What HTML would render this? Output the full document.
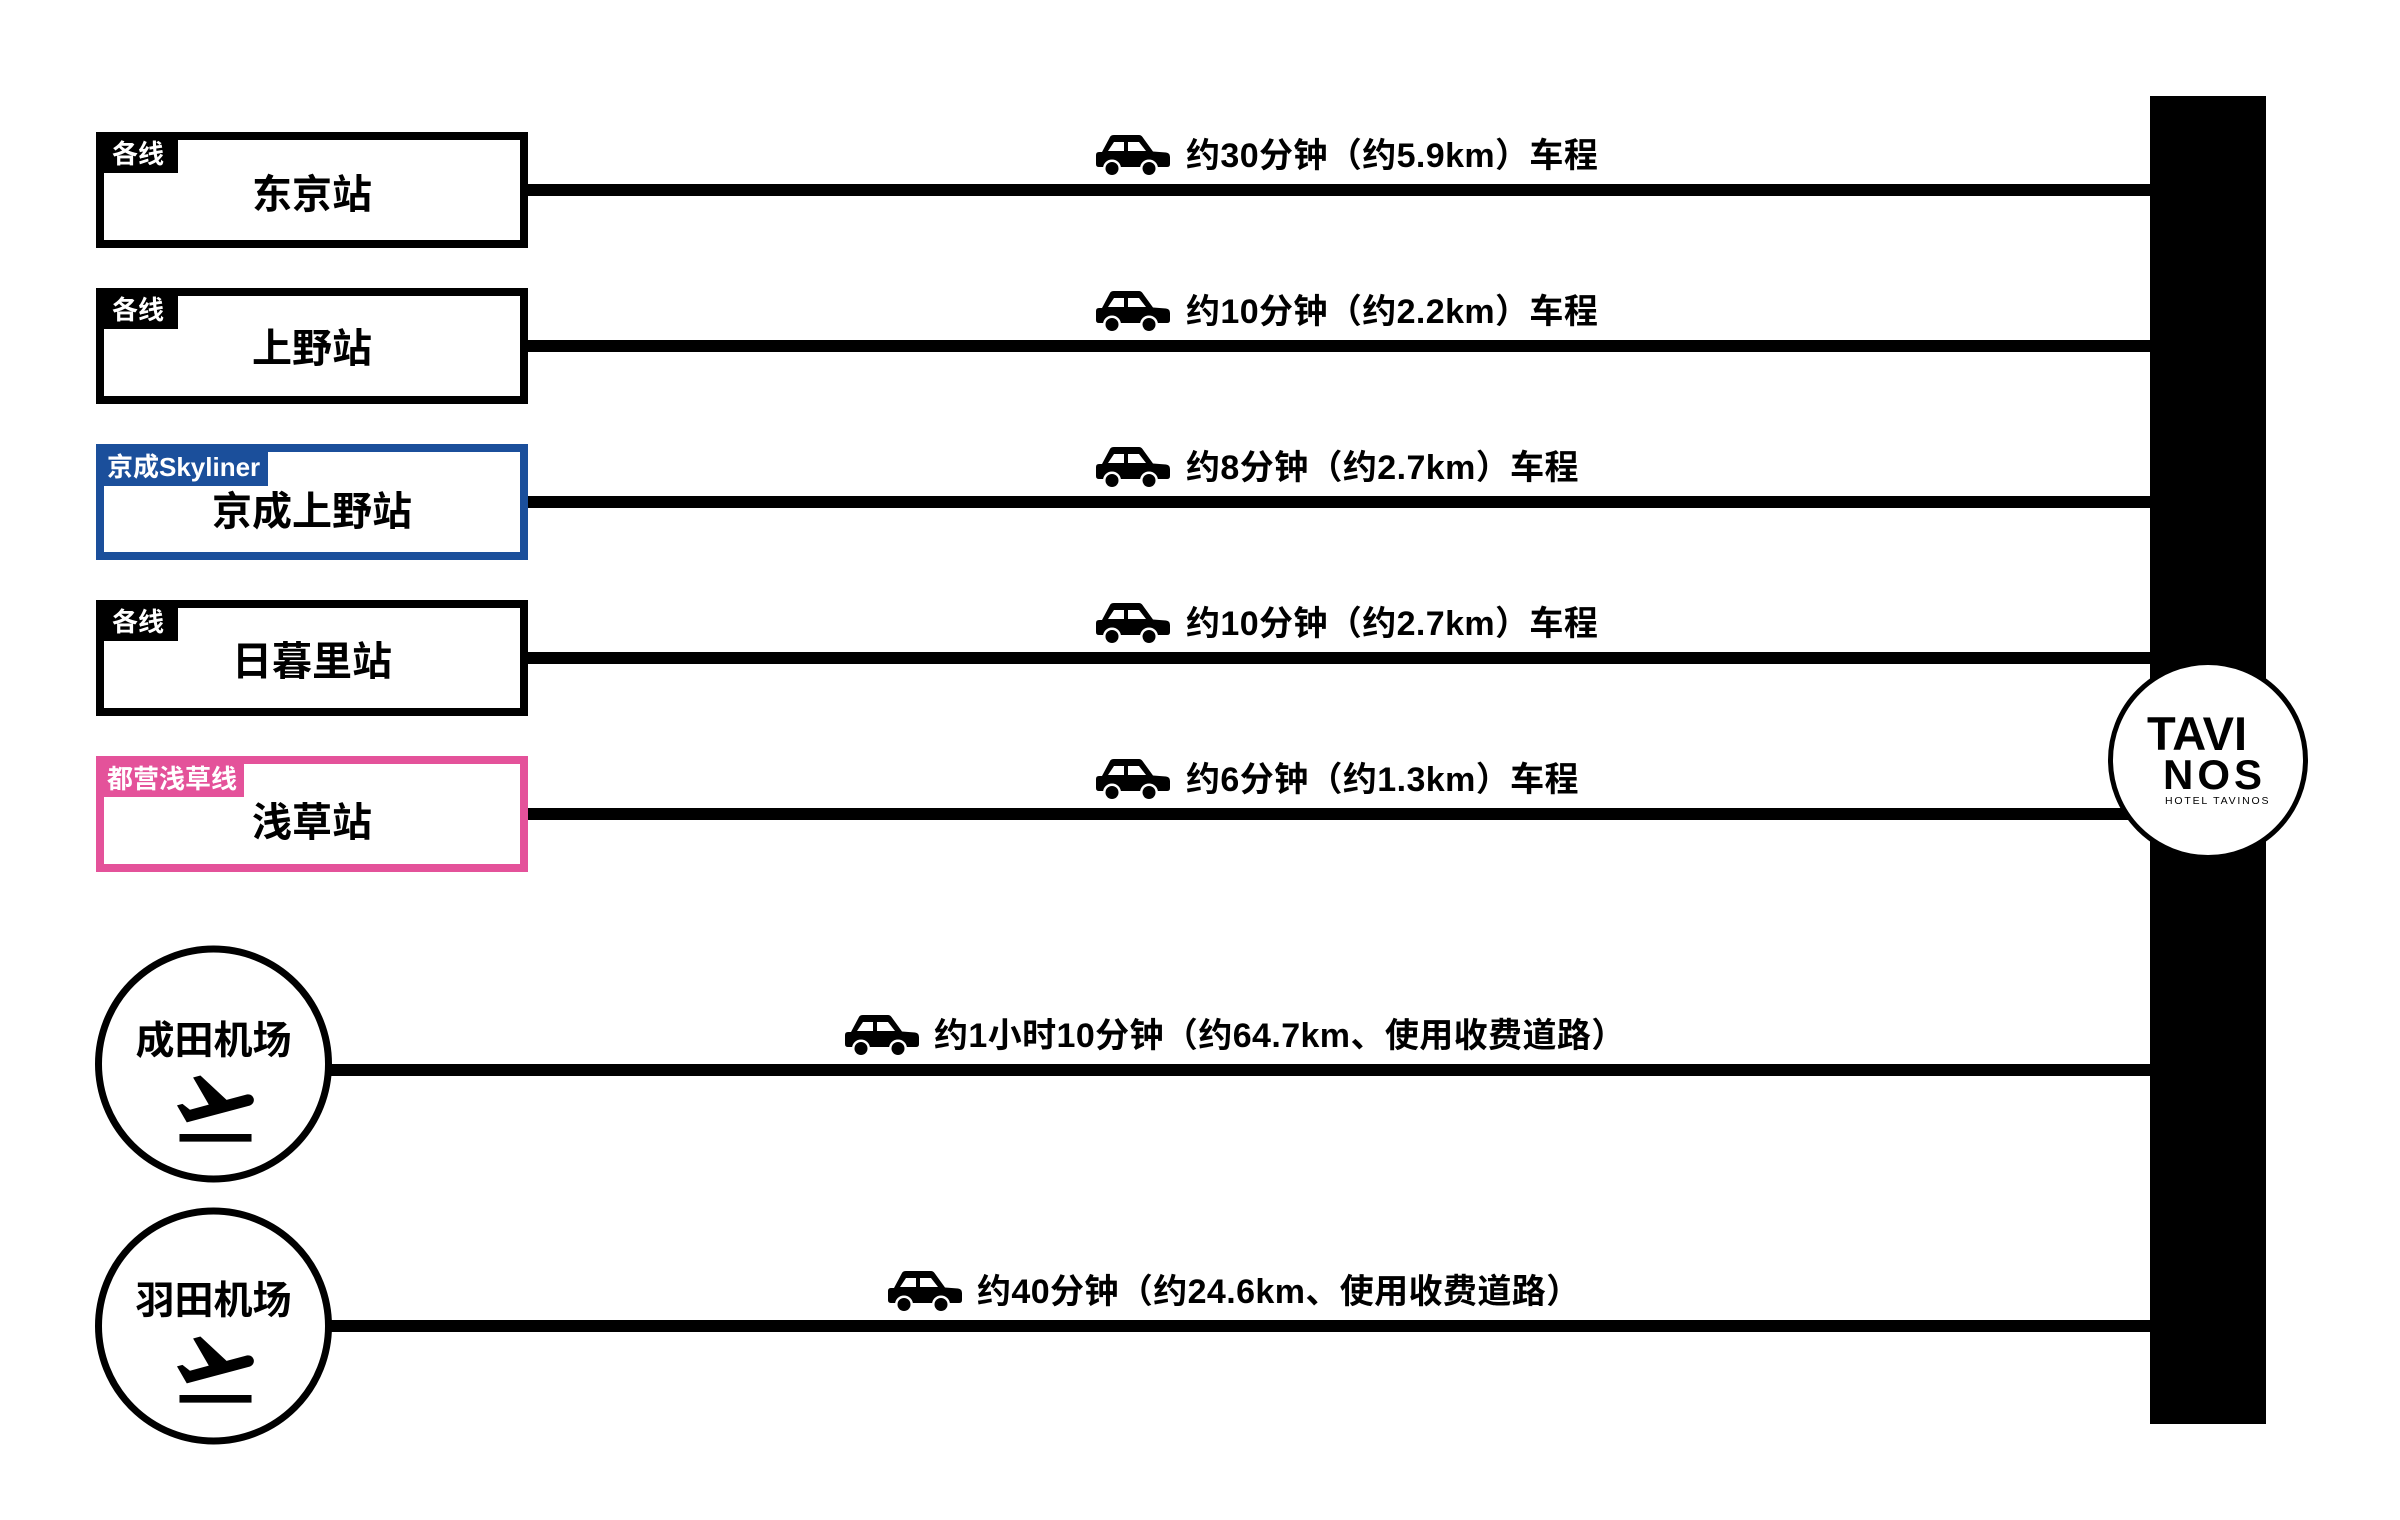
<!DOCTYPE html>
<html>
<head>
<meta charset="utf-8">
<style>
html,body{margin:0;padding:0;background:#fff;}
#c{position:relative;width:2400px;height:1520px;overflow:hidden;background:#fff;font-family:"Liberation Sans","Noto Sans CJK SC",sans-serif;}
.a{position:absolute;}
.box{position:absolute;left:96px;width:432px;height:116px;box-sizing:border-box;border:8px solid #000;background:#fff;}
.tab{position:absolute;left:104px;height:33px;}
.lbl{position:absolute;font-size:26px;line-height:26px;color:#fff;font-weight:700;white-space:nowrap;}
.st{position:absolute;left:96px;width:432px;text-align:center;font-size:40px;line-height:40px;font-weight:700;color:#000;white-space:nowrap;}
.ln{position:absolute;height:12px;background:#000;}
.tx{position:absolute;font-size:34px;line-height:34px;font-weight:700;color:#000;white-space:nowrap;letter-spacing:0.4px;}
.car{position:absolute;width:74px;height:40px;}
.ap{position:absolute;left:96px;width:235px;text-align:center;font-size:39px;line-height:39px;font-weight:700;white-space:nowrap;}
</style>
</head>
<body>
<div id="c">
  <!-- right bar -->
  <div class="a" style="left:2150px;top:96px;width:116px;height:1328px;background:#000;"></div>

  <!-- connector lines -->
  <div class="ln" style="left:528px;width:1622px;top:184px;"></div>
  <div class="ln" style="left:528px;width:1622px;top:340px;"></div>
  <div class="ln" style="left:528px;width:1622px;top:496px;"></div>
  <div class="ln" style="left:528px;width:1622px;top:652px;"></div>
  <div class="ln" style="left:528px;width:1622px;top:808px;"></div>
  <div class="ln" style="left:300px;width:1850px;top:1064px;"></div>
  <div class="ln" style="left:300px;width:1850px;top:1320px;"></div>

  <!-- station boxes -->
  <div class="box" style="top:132px;"></div>
  <div class="tab" style="top:140px;width:74px;background:#000;"></div>
  <div class="lbl" style="left:112px;top:141px;">各线</div>
  <div class="st" style="top:175px;">东京站</div>

  <div class="box" style="top:288px;"></div>
  <div class="tab" style="top:296px;width:74px;background:#000;"></div>
  <div class="lbl" style="left:112px;top:297px;">各线</div>
  <div class="st" style="top:329px;">上野站</div>

  <div class="box" style="top:444px;border-color:#1b4f9b;"></div>
  <div class="tab" style="top:452px;width:164px;height:34px;background:#1b4f9b;"></div>
  <div class="lbl" style="left:107px;top:454px;">京成Skyliner</div>
  <div class="st" style="top:492px;">京成上野站</div>

  <div class="box" style="top:600px;"></div>
  <div class="tab" style="top:608px;width:74px;background:#000;"></div>
  <div class="lbl" style="left:112px;top:609px;">各线</div>
  <div class="st" style="top:642px;">日暮里站</div>

  <div class="box" style="top:756px;border-color:#e4529a;"></div>
  <div class="tab" style="top:764px;width:140px;background:#e4529a;"></div>
  <div class="lbl" style="left:107px;top:766px;">都营浅草线</div>
  <div class="st" style="top:803px;">浅草站</div>

  <!-- airport circles + logo circle -->
  <svg class="a" style="left:0;top:0;" width="2400" height="1520" viewBox="0 0 2400 1520">
    <circle cx="213.5" cy="1064" r="115" fill="#fff" stroke="#000" stroke-width="7"/>
    <circle cx="213.5" cy="1326" r="115" fill="#fff" stroke="#000" stroke-width="7"/>
    <circle cx="2208" cy="760" r="97.5" fill="#fff" stroke="#000" stroke-width="5"/>
  </svg>

  <div class="ap" style="top:1022px;">成田机场</div>
  <svg class="a" style="left:169.5px;top:1062px;" width="91" height="91" viewBox="0 0 24 24"><path fill="#000" d="M2.5 19h19v2h-19zm19.57-9.36c-.21-.8-1.04-1.28-1.84-1.06L14.92 10l-6.9-6.43-1.930.51 4.14 7.17-4.97 1.33-1.97-1.54-1.45.39 1.82 3.16.77 1.33 1.6-.43 5.31-1.42 4.35-1.160L21 11.49c.81-.23 1.280-1.05 1.07-1.85z"/></svg>

  <div class="ap" style="top:1282px;">羽田机场</div>
  <svg class="a" style="left:169.5px;top:1323px;" width="91" height="91" viewBox="0 0 24 24"><path fill="#000" d="M2.5 19h19v2h-19zm19.57-9.36c-.21-.8-1.04-1.28-1.84-1.06L14.92 10l-6.9-6.43-1.930.51 4.14 7.17-4.97 1.33-1.97-1.54-1.45.39 1.82 3.16.77 1.33 1.6-.43 5.31-1.42 4.35-1.160L21 11.49c.81-.23 1.280-1.05 1.07-1.85z"/></svg>

  <!-- logo -->
  <div class="a" style="left:2147px;top:710px;font-size:47px;line-height:47px;font-weight:700;letter-spacing:0px;white-space:nowrap;">TAVI</div>
  <div class="a" style="left:2163px;top:754px;font-size:42px;line-height:42px;font-weight:700;letter-spacing:4px;white-space:nowrap;">NOS</div>
  <div class="a" style="left:2165px;top:796px;font-size:10.5px;line-height:10.5px;letter-spacing:1.8px;white-space:nowrap;">HOTEL TAVINOS</div>

  <!-- car icons -->
  <svg class="car" style="left:1096px;top:135px;" viewBox="0 0 74 40"><path fill="#000" d="M0,20 Q0,17 3,17 L6,17 L14,2 Q15,0 18,0 L43,0 Q45,0 46.5,2 L57,16.5 L70,17.5 Q74,18 74,22 L74,29 Q74,32 71,32 L3,32 Q0,32 0,29 Z"/><polygon fill="#fff" points="18,7 28,7 28,16 12,16"/><polygon fill="#fff" points="32,7 43,7 50,16 32,16"/><circle cx="16" cy="33.5" r="9" fill="#fff"/><circle cx="16" cy="33.5" r="6.5" fill="#000"/><circle cx="53" cy="33.5" r="9" fill="#fff"/><circle cx="53" cy="33.5" r="6.5" fill="#000"/></svg>
  <svg class="car" style="left:1096px;top:291px;" viewBox="0 0 74 40"><path fill="#000" d="M0,20 Q0,17 3,17 L6,17 L14,2 Q15,0 18,0 L43,0 Q45,0 46.5,2 L57,16.5 L70,17.5 Q74,18 74,22 L74,29 Q74,32 71,32 L3,32 Q0,32 0,29 Z"/><polygon fill="#fff" points="18,7 28,7 28,16 12,16"/><polygon fill="#fff" points="32,7 43,7 50,16 32,16"/><circle cx="16" cy="33.5" r="9" fill="#fff"/><circle cx="16" cy="33.5" r="6.5" fill="#000"/><circle cx="53" cy="33.5" r="9" fill="#fff"/><circle cx="53" cy="33.5" r="6.5" fill="#000"/></svg>
  <svg class="car" style="left:1096px;top:447px;" viewBox="0 0 74 40"><path fill="#000" d="M0,20 Q0,17 3,17 L6,17 L14,2 Q15,0 18,0 L43,0 Q45,0 46.5,2 L57,16.5 L70,17.5 Q74,18 74,22 L74,29 Q74,32 71,32 L3,32 Q0,32 0,29 Z"/><polygon fill="#fff" points="18,7 28,7 28,16 12,16"/><polygon fill="#fff" points="32,7 43,7 50,16 32,16"/><circle cx="16" cy="33.5" r="9" fill="#fff"/><circle cx="16" cy="33.5" r="6.5" fill="#000"/><circle cx="53" cy="33.5" r="9" fill="#fff"/><circle cx="53" cy="33.5" r="6.5" fill="#000"/></svg>
  <svg class="car" style="left:1096px;top:603px;" viewBox="0 0 74 40"><path fill="#000" d="M0,20 Q0,17 3,17 L6,17 L14,2 Q15,0 18,0 L43,0 Q45,0 46.5,2 L57,16.5 L70,17.5 Q74,18 74,22 L74,29 Q74,32 71,32 L3,32 Q0,32 0,29 Z"/><polygon fill="#fff" points="18,7 28,7 28,16 12,16"/><polygon fill="#fff" points="32,7 43,7 50,16 32,16"/><circle cx="16" cy="33.5" r="9" fill="#fff"/><circle cx="16" cy="33.5" r="6.5" fill="#000"/><circle cx="53" cy="33.5" r="9" fill="#fff"/><circle cx="53" cy="33.5" r="6.5" fill="#000"/></svg>
  <svg class="car" style="left:1096px;top:759px;" viewBox="0 0 74 40"><path fill="#000" d="M0,20 Q0,17 3,17 L6,17 L14,2 Q15,0 18,0 L43,0 Q45,0 46.5,2 L57,16.5 L70,17.5 Q74,18 74,22 L74,29 Q74,32 71,32 L3,32 Q0,32 0,29 Z"/><polygon fill="#fff" points="18,7 28,7 28,16 12,16"/><polygon fill="#fff" points="32,7 43,7 50,16 32,16"/><circle cx="16" cy="33.5" r="9" fill="#fff"/><circle cx="16" cy="33.5" r="6.5" fill="#000"/><circle cx="53" cy="33.5" r="9" fill="#fff"/><circle cx="53" cy="33.5" r="6.5" fill="#000"/></svg>
  <svg class="car" style="left:845px;top:1015px;" viewBox="0 0 74 40"><path fill="#000" d="M0,20 Q0,17 3,17 L6,17 L14,2 Q15,0 18,0 L43,0 Q45,0 46.5,2 L57,16.5 L70,17.5 Q74,18 74,22 L74,29 Q74,32 71,32 L3,32 Q0,32 0,29 Z"/><polygon fill="#fff" points="18,7 28,7 28,16 12,16"/><polygon fill="#fff" points="32,7 43,7 50,16 32,16"/><circle cx="16" cy="33.5" r="9" fill="#fff"/><circle cx="16" cy="33.5" r="6.5" fill="#000"/><circle cx="53" cy="33.5" r="9" fill="#fff"/><circle cx="53" cy="33.5" r="6.5" fill="#000"/></svg>
  <svg class="car" style="left:888px;top:1271px;" viewBox="0 0 74 40"><path fill="#000" d="M0,20 Q0,17 3,17 L6,17 L14,2 Q15,0 18,0 L43,0 Q45,0 46.5,2 L57,16.5 L70,17.5 Q74,18 74,22 L74,29 Q74,32 71,32 L3,32 Q0,32 0,29 Z"/><polygon fill="#fff" points="18,7 28,7 28,16 12,16"/><polygon fill="#fff" points="32,7 43,7 50,16 32,16"/><circle cx="16" cy="33.5" r="9" fill="#fff"/><circle cx="16" cy="33.5" r="6.5" fill="#000"/><circle cx="53" cy="33.5" r="9" fill="#fff"/><circle cx="53" cy="33.5" r="6.5" fill="#000"/></svg>

  <!-- travel labels -->
  <div class="tx" style="left:1186px;top:139px;">约30分钟（约5.9km）车程</div>
  <div class="tx" style="left:1186px;top:295px;">约10分钟（约2.2km）车程</div>
  <div class="tx" style="left:1186px;top:451px;">约8分钟（约2.7km）车程</div>
  <div class="tx" style="left:1186px;top:607px;">约10分钟（约2.7km）车程</div>
  <div class="tx" style="left:1186px;top:763px;">约6分钟（约1.3km）车程</div>
  <div class="tx" style="left:934px;top:1019px;">约1小时10分钟（约64.7km、使用收费道路）</div>
  <div class="tx" style="left:977px;top:1275px;">约40分钟（约24.6km、使用收费道路）</div>
</div>
</body>
</html>
